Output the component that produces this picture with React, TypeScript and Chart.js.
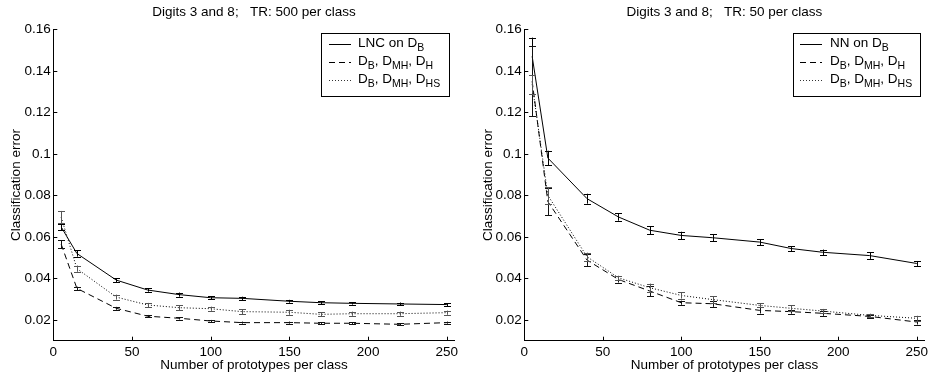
import React, { useEffect, useRef } from 'react';
import { Chart, registerables } from 'chart.js';

Chart.register(...registerables);

// ---------- data ----------
const X_VALUES = [5, 15, 40, 60, 80, 100, 120, 150, 170, 190, 220, 250];
const X_TICKS = [0, 50, 100, 150, 200, 250];
const Y_TICKS = [0.02, 0.04, 0.06, 0.08, 0.1, 0.12, 0.14, 0.16];
const Y_TICK_LABELS = ['0.02', '0.04', '0.06', '0.08', '0.1', '0.12', '0.14', '0.16'];

const LEFT_TITLE = 'Digits 3 and 8;   TR: 500 per class';
const RIGHT_TITLE = 'Digits 3 and 8;   TR: 50 per class';
const X_TITLE = 'Number of prototypes per class';
const Y_TITLE = 'Classification error';

// Left panel (TR: 500 per class)
const LEFT_LNC = [0.0648, 0.052, 0.0392, 0.0344, 0.0322, 0.0307, 0.0304, 0.029, 0.0283, 0.028, 0.0277, 0.0274];
const LEFT_LNC_ERR = [0.0016, 0.0015, 0.001, 0.0008, 0.001, 0.0008, 0.0008, 0.0007, 0.0007, 0.0006, 0.0007, 0.0007];
const LEFT_H = [0.0565, 0.0352, 0.0256, 0.0218, 0.0208, 0.0195, 0.0187, 0.0187, 0.0184, 0.0184, 0.0179, 0.0187];
const LEFT_H_ERR = [0.002, 0.0008, 0.0007, 0.0006, 0.0006, 0.0005, 0.0005, 0.0005, 0.0005, 0.0005, 0.0005, 0.0005];
const LEFT_HS = [0.0695, 0.0447, 0.031, 0.0272, 0.0259, 0.0254, 0.024, 0.0237, 0.0227, 0.023, 0.023, 0.0235];
const LEFT_HS_ERR = [0.003, 0.0015, 0.0012, 0.001, 0.0012, 0.001, 0.0012, 0.0012, 0.001, 0.001, 0.001, 0.001];

// Right panel (TR: 50 per class)
const RIGHT_NN = [0.147, 0.098, 0.0784, 0.0696, 0.0632, 0.0607, 0.0596, 0.0575, 0.0544, 0.0526, 0.051, 0.0472];
const RIGHT_NN_ERR = [0.009, 0.0035, 0.0024, 0.0018, 0.002, 0.0018, 0.0018, 0.0014, 0.0012, 0.0013, 0.0016, 0.0012];
const RIGHT_H = [0.135, 0.077, 0.0488, 0.0395, 0.0339, 0.0283, 0.0278, 0.0246, 0.024, 0.0232, 0.0217, 0.019];
const RIGHT_H_ERR = [0.017, 0.0065, 0.003, 0.0015, 0.0025, 0.001, 0.0015, 0.0015, 0.001, 0.0012, 0.0008, 0.0012];
const RIGHT_HS = [0.1335, 0.08, 0.0504, 0.0403, 0.0355, 0.0318, 0.0298, 0.027, 0.0256, 0.0243, 0.0222, 0.0208];
const RIGHT_HS_ERR = [0.0045, 0.004, 0.002, 0.001, 0.002, 0.0015, 0.0015, 0.001, 0.0015, 0.001, 0.0008, 0.0012];

// ---------- styles ----------
const FONT_FAMILY = "'Liberation Sans', Arial, Helvetica, sans-serif";
const FONT = { family: FONT_FAMILY, size: 13.5 };
const DASH_SOLID: number[] = [];
const DASH_DASHED = [6, 4];
const DASH_DOTTED = [1, 2];

// ---------- plugins ----------
const errorBarPlugin = {
  id: 'errorBars',
  afterDatasetsDraw(chart: any) {
    const { ctx } = chart;
    const xs = chart.scales.x;
    const ys = chart.scales.y;
    ctx.save();
    chart.data.datasets.forEach((ds: any) => {
      if (!ds.errors) return;
      ctx.strokeStyle = ds.errColor || '#000';
      ctx.lineWidth = 1;
      ctx.setLineDash([]);
      ds.data.forEach((p: any, i: number) => {
        const e = ds.errors[i];
        const px = Math.round(xs.getPixelForValue(p.x)) + 0.5;
        const yt = ys.getPixelForValue(p.y + e);
        const yb = ys.getPixelForValue(p.y - e);
        const cw = 3.5;
        ctx.beginPath();
        ctx.moveTo(px, yt);
        ctx.lineTo(px, yb);
        ctx.moveTo(px - cw, Math.round(yt) + 0.5);
        ctx.lineTo(px + cw, Math.round(yt) + 0.5);
        ctx.moveTo(px - cw, Math.round(yb) + 0.5);
        ctx.lineTo(px + cw, Math.round(yb) + 0.5);
        ctx.stroke();
      });
    });
    ctx.restore();
  },
};

const innerTicksPlugin = {
  id: 'innerTicks',
  afterDraw(chart: any) {
    const { ctx, chartArea } = chart;
    const xs = chart.scales.x;
    const ys = chart.scales.y;
    const len = 4;
    ctx.save();
    ctx.strokeStyle = '#000';
    ctx.lineWidth = 1;
    ctx.setLineDash([]);
    ctx.beginPath();
    xs.ticks.forEach((t: any) => {
      const px = Math.round(xs.getPixelForValue(t.value)) + 0.5;
      ctx.moveTo(px, chartArea.bottom);
      ctx.lineTo(px, chartArea.bottom - len);
    });
    ys.ticks.forEach((t: any) => {
      const py = Math.round(ys.getPixelForValue(t.value)) + 0.5;
      ctx.moveTo(chartArea.left, py);
      ctx.lineTo(chartArea.left + len, py);
    });
    ctx.stroke();
    ctx.restore();
  },
};

const richLegendPlugin = {
  id: 'richLegend',
  afterDraw(chart: any, _args: any, opts: any) {
    if (!opts || !opts.items) return;
    const { ctx } = chart;
    const b = opts.box;
    ctx.save();
    ctx.fillStyle = '#fff';
    ctx.fillRect(b.x1, b.y1, b.x2 - b.x1, b.y2 - b.y1);
    ctx.strokeStyle = '#000';
    ctx.lineWidth = 1;
    ctx.setLineDash([]);
    ctx.strokeRect(Math.round(b.x1) + 0.5, Math.round(b.y1) + 0.5, Math.round(b.x2 - b.x1), Math.round(b.y2 - b.y1));
    const mainFont = `13.5px ${FONT_FAMILY}`;
    const subFont = `10.5px ${FONT_FAMILY}`;
    ctx.textBaseline = 'alphabetic';
    ctx.textAlign = 'left';
    ctx.fillStyle = '#000';
    opts.items.forEach((it: any, i: number) => {
      const base = opts.firstBaseline + i * opts.rowGap;
      const ly = Math.round(base - 3) + 0.5;
      ctx.setLineDash(it.dash);
      ctx.strokeStyle = it.color || '#000';
      ctx.beginPath();
      ctx.moveTo(opts.lineX1, ly);
      ctx.lineTo(opts.lineX2, ly);
      ctx.stroke();
      ctx.setLineDash([]);
      let x = opts.textX;
      it.parts.forEach((p: any) => {
        ctx.font = p.sub ? subFont : mainFont;
        ctx.fillText(p.t, x, base + (p.sub ? 4 : 0));
        x += ctx.measureText(p.t).width;
      });
    });
    ctx.restore();
  },
};

// ---------- chart builder ----------
function makeConfig(p: any) {
  const ds = (label: string, vals: number[], errs: number[], dash: number[], errColor: string) => ({
    label,
    data: X_VALUES.map((x, i) => ({ x, y: vals[i] })),
    errors: errs,
    errColor,
    borderColor: '#000',
    borderWidth: 1,
    borderDash: dash,
    pointRadius: 0,
    fill: false,
    tension: 0,
  });
  return {
    type: 'line',
    data: {
      datasets: [
        ds('main', p.main, p.mainErr, DASH_SOLID, '#000'),
        ds('H', p.h, p.hErr, DASH_DASHED, '#111'),
        ds('HS', p.hs, p.hsErr, DASH_DOTTED, '#555'),
      ],
    },
    options: {
      animation: false,
      responsive: false,
      layout: { padding: { top: 0, left: 0, bottom: 0, right: p.rightPad } },
      plugins: {
        legend: { display: false },
        tooltip: { enabled: false },
        title: {
          display: true,
          text: p.title,
          fullSize: false,
          color: '#000',
          font: { ...FONT, weight: 'normal' },
          padding: { top: 4.5, bottom: 8.6 },
        },
        richLegend: p.legend,
      },
      scales: {
        x: {
          type: 'linear',
          min: 0,
          max: 255,
          afterBuildTicks: (s: any) => {
            s.ticks = X_TICKS.map((v) => ({ value: v }));
          },
          afterFit: (s: any) => {
            s.height = 35.3;
          },
          ticks: { color: '#000', font: FONT, padding: 3, maxRotation: 0, autoSkip: false },
          grid: { display: false, drawTicks: false },
          border: { display: true, color: '#000', width: 1 },
          title: {
            display: true,
            text: X_TITLE,
            color: '#000',
            font: FONT,
            padding: { top: 0, bottom: 2.8 },
          },
        },
        y: {
          type: 'linear',
          min: 0.01,
          max: 0.16,
          afterBuildTicks: (s: any) => {
            s.ticks = Y_TICKS.map((v) => ({ value: v }));
          },
          afterFit: (s: any) => {
            s.width = p.leftW;
          },
          ticks: {
            color: '#000',
            font: FONT,
            padding: 2.5,
            autoSkip: false,
            callback: (v: number) => {
              const i = Y_TICKS.findIndex((t) => Math.abs(t - v) < 1e-9);
              return i >= 0 ? Y_TICK_LABELS[i] : '';
            },
          },
          grid: { display: false, drawTicks: false },
          border: { display: true, color: '#000', width: 1 },
          title: {
            display: true,
            text: Y_TITLE,
            color: '#000',
            font: FONT,
            padding: { top: p.yTitlePad, bottom: 0 },
          },
        },
      },
    },
    plugins: [errorBarPlugin, innerTicksPlugin, richLegendPlugin],
  };
}

const legendItems = (first: any[]) => [
  { dash: DASH_SOLID, parts: first },
  {
    dash: DASH_DASHED,
    parts: [
      { t: 'D' }, { t: 'B', sub: true }, { t: ', D' }, { t: 'MH', sub: true }, { t: ', D' }, { t: 'H', sub: true },
    ],
  },
  {
    dash: DASH_DOTTED,
    color: '#333',
    parts: [
      { t: 'D' }, { t: 'B', sub: true }, { t: ', D' }, { t: 'MH', sub: true }, { t: ', D' }, { t: 'HS', sub: true },
    ],
  },
];

const LEFT_PANEL = {
  title: LEFT_TITLE,
  main: LEFT_LNC, mainErr: LEFT_LNC_ERR,
  h: LEFT_H, hErr: LEFT_H_ERR,
  hs: LEFT_HS, hsErr: LEFT_HS_ERR,
  leftW: 53.3,
  rightPad: 12.3,
  yTitlePad: 8.4,
  legend: {
    box: { x1: 321, y1: 33, x2: 449, y2: 96 },
    lineX1: 329, lineX2: 351, textX: 358,
    firstBaseline: 47, rowGap: 18,
    items: legendItems([{ t: 'LNC on D' }, { t: 'B', sub: true }]),
  },
};

const RIGHT_PANEL = {
  title: RIGHT_TITLE,
  main: RIGHT_NN, mainErr: RIGHT_NN_ERR,
  h: RIGHT_H, hErr: RIGHT_H_ERR,
  hs: RIGHT_HS, hsErr: RIGHT_HS_ERR,
  leftW: 57.3,
  rightPad: 10.4,
  yTitlePad: 13.2,
  legend: {
    box: { x1: 326, y1: 33, x2: 453, y2: 96 },
    lineX1: 333, lineX2: 355, textX: 363,
    firstBaseline: 47, rowGap: 18,
    items: legendItems([{ t: 'NN on D' }, { t: 'B', sub: true }]),
  },
};

function Panel({ panel, left, width }: { panel: any; left: number; width: number }) {
  const ref = useRef<HTMLCanvasElement | null>(null);
  useEffect(() => {
    if (!ref.current) return;
    const chart = new Chart(ref.current, makeConfig(panel) as any);
    return () => chart.destroy();
  }, [panel]);
  return (
    <canvas
      ref={ref}
      width={width}
      height={376}
      style={{ position: 'absolute', left, top: 0, width, height: 376 }}
    />
  );
}

export default function App() {
  return (
    <div style={{ position: 'absolute', left: 0, top: 0, width: 935, height: 376, background: '#fff' }}>
      <Panel panel={LEFT_PANEL} left={0} width={467} />
      <Panel panel={RIGHT_PANEL} left={467} width={468} />
    </div>
  );
}
